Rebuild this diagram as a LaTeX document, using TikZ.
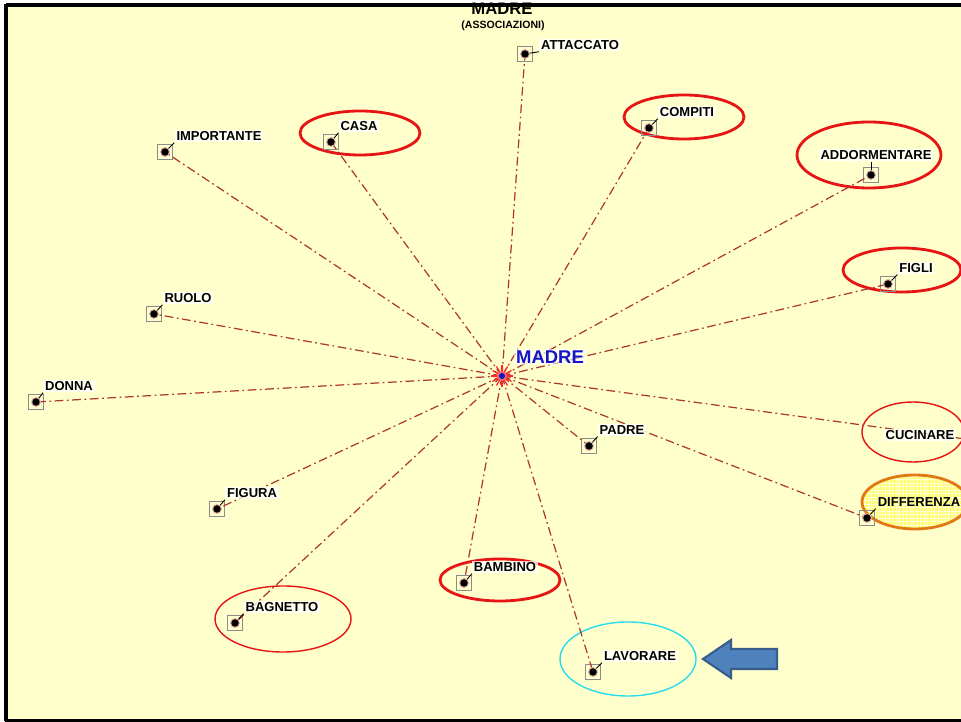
\documentclass[tikz,border=0pt]{standalone}
\usepackage{fontspec}
\setmainfont{Liberation Sans}
\definecolor{paper}{RGB}{255,255,204}
\definecolor{linkred}{RGB}{175,55,50}
\definecolor{hired}{RGB}{230,20,20}
\definecolor{hiorange}{RGB}{225,120,20}
\definecolor{hicyan}{RGB}{40,220,240}
\definecolor{hifill}{RGB}{255,255,110}
\definecolor{arrowblue}{RGB}{79,129,189}
\definecolor{arrowedge}{RGB}{56,93,138}
\definecolor{centreblue}{RGB}{20,20,200}
\tikzset{
  marker/.style={draw=black!45,line width=0.4pt,minimum size=0.3cm,inner sep=0pt},
  lbl/.style={fill=white,fill opacity=0.75,text opacity=1,inner sep=1pt,
    font=\bfseries\fontsize{7.4}{8}\selectfont},
  link/.style={linkred,line width=0.7pt,dash pattern=on 5pt off 2pt on 1pt off 2pt},
  tick/.style={black,line width=0.5pt},
  ring/.style={hired,line width=1.6pt},
  thinring/.style={hired,line width=0.8pt}
}
\newcommand{\dotmark}[1]{%
  \fill[linkred!40] (#1.center) circle (0.1cm);
  \fill[black] (#1.center) circle (0.075cm);}
\begin{document}
\begin{tikzpicture}[x=0.02cm,y=-0.02cm]
\useasboundingbox (0,0) rectangle (961,722);
\clip (0,0) rectangle (961,722);
% background and frame
\fill[white] (0,0) rectangle (961,722);
\fill[paper] (6,5) rectangle (965,720);
\draw[black,line width=2pt] (6,5) -- (970,5);
\draw[black,line width=2pt] (6,4) -- (6,721);
\draw[black,line width=2pt] (5,720.5) -- (970,720.5);

% title
\node[font=\bfseries\fontsize{9.5}{10}\selectfont] (title) at (502,9) {MADRE};
\node[font=\bfseries\fontsize{6}{7}\selectfont] (subtitle) at (503,26) {(ASSOCIAZIONI)};

% highlight rings
\draw[ring] (360,133) ellipse (60 and 22);
\draw[ring] (684,117) ellipse (60 and 22);
\draw[ring] (869,155) ellipse (72 and 33);
\draw[ring] (902,270) ellipse (59 and 22);
\draw[thinring] (913,432) ellipse (51 and 30);
\fill[hifill] (915,502) ellipse (53 and 27);
\begin{scope}
  \clip (915,502) ellipse (53 and 27);
  \draw[white!70!hifill,line width=0.3pt,step=0.07cm] (850,470) grid (975,535);
\end{scope}
\draw[hiorange,line width=1.6pt] (915,502) ellipse (53 and 27);
\draw[thinring] (283,619) ellipse (68 and 33);
\draw[ring] (500,580) ellipse (60 and 21);
\draw[hicyan,line width=0.8pt] (628,659) ellipse (68 and 37);

% centre
\coordinate (ctr) at (502,376);

% markers
\node[marker] (attaccato) at (525,54) {};
\node[marker] (casa) at (331,142) {};
\node[marker] (compiti) at (649,128) {};
\node[marker] (importante) at (165,152) {};
\node[marker] (addormentare) at (871,175) {};
\node[marker] (figli) at (888,284) {};
\node[marker] (ruolo) at (154,314) {};
\node[marker] (donna) at (36,402) {};
\node[marker] (padre) at (589,446) {};
\coordinate (cucinare) at (980,441);
\node[marker] (differenza) at (867,518) {};
\node[marker] (figura) at (217,509) {};
\node[marker] (bagnetto) at (235,623) {};
\node[marker] (bambino) at (464,583) {};
\node[marker] (lavorare) at (593,672) {};

% connectors
\foreach \m in {attaccato,casa,compiti,importante,addormentare,figli,ruolo,donna,
  padre,differenza,figura,bagnetto,bambino,lavorare}
  \draw[link] (ctr) -- (\m.center);
\draw[link] (ctr) -- (cucinare);

% labels
\node[lbl] (l-attaccato) at (580,45) {ATTACCATO};
\node[lbl] (l-casa) at (359,126) {CASA};
\node[lbl] (l-compiti) at (687,112) {COMPITI};
\node[lbl] (l-importante) at (219,136) {IMPORTANTE};
\node[lbl] (l-addormentare) at (876,155) {ADDORMENTARE};
\node[lbl] (l-figli) at (916,268) {FIGLI};
\node[lbl] (l-ruolo) at (188,298) {RUOLO};
\node[lbl] (l-donna) at (69,386) {DONNA};
\node[lbl] (l-padre) at (622,430) {PADRE};
\node[lbl] (l-cucinare) at (920,435) {CUCINARE};
\node[lbl,fill opacity=0] (l-differenza) at (919,502) {DIFFERENZA};
\node[lbl] (l-figura) at (252,493) {FIGURA};
\node[lbl] (l-bagnetto) at (282,607) {BAGNETTO};
\node[lbl] (l-bambino) at (505,567) {BAMBINO};
\node[lbl] (l-lavorare) at (640,656) {LAVORARE};

% ticks and dots
\foreach \m in {casa,compiti,importante,figli,ruolo,donna,
  padre,differenza,figura,bagnetto,bambino,lavorare}
  \draw[tick] (\m.center) -- (l-\m.south west);
\draw[tick] (attaccato.center) -- (l-attaccato.south west);
\draw[tick] (addormentare.center) -- (addormentare.center |- l-addormentare.south);
\foreach \m in {attaccato,casa,compiti,importante,addormentare,figli,ruolo,donna,
  padre,differenza,figura,bagnetto,bambino,lavorare}
  {\dotmark{\m}}

% centre burst
\foreach \a in {0,30,...,330}
  \draw[red!85!white,line width=0.7pt] (ctr) -- ++(\a:0.22cm);
\fill[red!60!white] (ctr) circle (0.1cm);
\fill[centreblue] (ctr) circle (0.06cm);
\node[font=\bfseries\fontsize{10.5}{12}\selectfont,text=centreblue,
  fill=white,fill opacity=0.6,text opacity=1,inner sep=1pt] (l-madre) at (550,357) {MADRE};

% pointer arrow
\draw[arrowedge,fill=arrowblue,line width=1.2pt,line join=miter]
  (703,659) -- (731,640) -- (731,649) -- (777,649) -- (777,669)
  -- (731,669) -- (731,678) -- cycle;
\end{tikzpicture}
\end{document}
